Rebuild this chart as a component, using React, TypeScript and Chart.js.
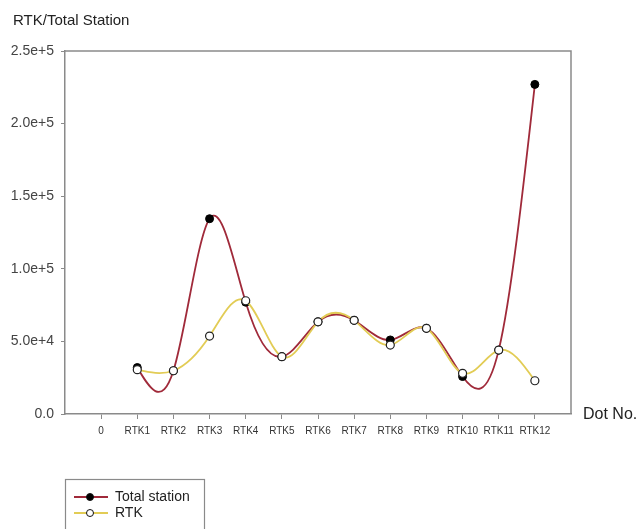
import React, { useEffect, useRef } from 'react';
import { Chart, registerables } from 'chart.js';

Chart.register(...registerables);

const chartTitle = 'RTK/Total Station';
const xAxisTitle = 'Dot No.';
const xTickLabels = ['0', 'RTK1', 'RTK2', 'RTK3', 'RTK4', 'RTK5', 'RTK6', 'RTK7', 'RTK8', 'RTK9', 'RTK10', 'RTK11', 'RTK12'];
const dotNo = [1, 2, 3, 4, 5, 6, 7, 8, 9, 10, 11, 12];
const totalStation = [32000, 29800, 134500, 77000, 39500, 63500, 64500, 51000, 59000, 25800, 44000, 227000];
const rtk = [30500, 29800, 53700, 78000, 39500, 63500, 64500, 47500, 59000, 28000, 44000, 22900];
const yTickValues = [0, 50000, 100000, 150000, 200000, 250000];
const yTickLabels = ['0.0', '5.0e+4', '1.0e+5', '1.5e+5', '2.0e+5', '2.5e+5'];
const seriesNames = ['Total station', 'RTK'];

const TS_COLOR = '#a02a3a';
const RTK_COLOR = '#e2cc55';
const AXIS_COLOR = '#8a8a8a';
const FONT = '"Liberation Sans", Arial, sans-serif';

// Renders each dataset's line as a natural cubic spline through its points
const splinePlugin = {
  id: 'naturalSpline',
  beforeDatasetDraw(chart: any, args: any) {
    const meta = args.meta;
    const line = meta.dataset;
    const pts = meta.data;
    const n = pts.length;
    if (!line || n < 3) return;
    const xs = pts.map((p: any) => p.x);
    const ys = pts.map((p: any) => p.y);
    const h: number[] = [];
    for (let i = 0; i < n - 1; i++) h[i] = xs[i + 1] - xs[i];
    const a: number[] = [], b: number[] = [], c: number[] = [], d: number[] = [];
    for (let i = 1; i < n - 1; i++) {
      a.push(h[i - 1]);
      b.push(2 * (h[i - 1] + h[i]));
      c.push(h[i]);
      d.push(6 * ((ys[i + 1] - ys[i]) / h[i] - (ys[i] - ys[i - 1]) / h[i - 1]));
    }
    const m = a.length;
    for (let i = 1; i < m; i++) {
      const w = a[i] / b[i - 1];
      b[i] -= w * c[i - 1];
      d[i] -= w * d[i - 1];
    }
    const sol: number[] = new Array(m);
    sol[m - 1] = d[m - 1] / b[m - 1];
    for (let i = m - 2; i >= 0; i--) sol[i] = (d[i] - c[i] * sol[i + 1]) / b[i];
    const M: number[] = new Array(n).fill(0);
    for (let i = 0; i < m; i++) M[i + 1] = sol[i];
    const der: number[] = [];
    for (let i = 0; i < n - 1; i++) der[i] = (ys[i + 1] - ys[i]) / h[i] - (h[i] * (2 * M[i] + M[i + 1])) / 6;
    der[n - 1] = (ys[n - 1] - ys[n - 2]) / h[n - 2] + (h[n - 2] * (M[n - 2] + 2 * M[n - 1])) / 6;
    pts.forEach((p: any, i: number) => {
      const hp = i > 0 ? h[i - 1] : 0;
      const hn = i < n - 1 ? h[i] : 0;
      p.cp1x = p.x - hp / 3;
      p.cp1y = p.y - (hp / 3) * der[i];
      p.cp2x = p.x + hn / 3;
      p.cp2y = p.y + (hn / 3) * der[i];
    });
    line._pointsUpdated = true;
    line._path = undefined;
  },
};

const decorPlugin = {
  id: 'decor',
  afterDraw(chart: any) {
    const ctx = chart.ctx;
    const area = chart.chartArea;
    ctx.save();
    // frame top & right
    ctx.strokeStyle = AXIS_COLOR;
    ctx.lineWidth = 1.5;
    ctx.beginPath();
    ctx.moveTo(area.left, area.top);
    ctx.lineTo(area.right, area.top);
    ctx.lineTo(area.right, area.bottom);
    ctx.stroke();

    // title
    ctx.fillStyle = '#222';
    ctx.textAlign = 'left';
    ctx.textBaseline = 'middle';
    ctx.font = `15px ${FONT}`;
    ctx.fillText(chartTitle, 13, 21);

    // x axis title
    ctx.font = `16px ${FONT}`;
    ctx.fillText(xAxisTitle, area.right + 12, area.bottom + 1);

    // legend
    ctx.strokeStyle = AXIS_COLOR;
    ctx.lineWidth = 1.2;
    ctx.strokeRect(65.5, 479.5, 139, 70);
    const items = [
      { name: seriesNames[0], color: TS_COLOR, fill: '#000', y: 497 },
      { name: seriesNames[1], color: RTK_COLOR, fill: '#fff', y: 513 },
    ];
    items.forEach((it) => {
      ctx.strokeStyle = it.color;
      ctx.lineWidth = 1.8;
      ctx.beginPath();
      ctx.moveTo(74, it.y);
      ctx.lineTo(108, it.y);
      ctx.stroke();
      ctx.beginPath();
      ctx.arc(90, it.y, 3.5, 0, Math.PI * 2);
      ctx.fillStyle = it.fill;
      ctx.fill();
      ctx.strokeStyle = '#111';
      ctx.lineWidth = 1;
      ctx.stroke();
      ctx.fillStyle = '#222';
      ctx.font = `14px ${FONT}`;
      ctx.fillText(it.name, 115, it.y);
    });
    ctx.restore();
  },
};

export default function App() {
  const canvasRef = useRef<HTMLCanvasElement | null>(null);

  useEffect(() => {
    const canvas = canvasRef.current;
    if (!canvas) return;
    const chart = new Chart(canvas, {
      type: 'line',
      data: {
        datasets: [
          {
            label: seriesNames[0],
            data: dotNo.map((x, i) => ({ x, y: totalStation[i] })),
            borderColor: TS_COLOR,
            borderWidth: 1.8,
            backgroundColor: '#000',
            pointBackgroundColor: '#000',
            pointBorderColor: '#000',
            pointRadius: 4,
            pointBorderWidth: 1,
            tension: 0.4,
            order: 1,
          },
          {
            label: seriesNames[1],
            data: dotNo.map((x, i) => ({ x, y: rtk[i] })),
            borderColor: RTK_COLOR,
            borderWidth: 1.8,
            backgroundColor: '#fff',
            pointBackgroundColor: '#fff',
            pointBorderColor: '#222',
            pointRadius: 4,
            pointBorderWidth: 1.2,
            tension: 0.4,
            order: 0,
          },
        ],
      },
      options: {
        responsive: false,
        animation: false,
        layout: { padding: { left: 0, top: 51, right: 68, bottom: 0 } },
        plugins: {
          legend: { display: false },
          tooltip: { enabled: false },
        },
        scales: {
          x: {
            type: 'linear',
            min: -1,
            max: 13,
            afterBuildTicks: (scale: any) => {
              scale.ticks = xTickLabels.map((_, i) => ({ value: i }));
            },
            afterFit: (scale: any) => {
              scale.height = 115;
            },
            grid: { drawOnChartArea: false, drawTicks: true, tickLength: 5, color: AXIS_COLOR },
            border: { color: AXIS_COLOR, width: 1.5 },
            ticks: {
              autoSkip: false,
              maxRotation: 0,
              padding: 6,
              color: '#333',
              font: { family: '"Liberation Sans Narrow", "Liberation Sans", Arial, sans-serif', size: 10 },
              callback: (v: any) => xTickLabels[Math.round(Number(v))] ?? '',
            },
          },
          y: {
            type: 'linear',
            min: 0,
            max: 250000,
            afterBuildTicks: (scale: any) => {
              scale.ticks = yTickValues.map((v) => ({ value: v }));
            },
            afterFit: (scale: any) => {
              scale.width = 65;
            },
            grid: { drawOnChartArea: false, drawTicks: true, tickLength: 4, color: AXIS_COLOR },
            border: { color: AXIS_COLOR, width: 1.5 },
            ticks: {
              padding: 7,
              color: '#444',
              font: { family: FONT, size: 14 },
              callback: (v: any) => {
                const idx = yTickValues.indexOf(Number(v));
                return idx >= 0 ? yTickLabels[idx] : '';
              },
            },
          },
        },
      },
      plugins: [splinePlugin, decorPlugin],
    });
    return () => chart.destroy();
  }, []);

  return (
    <div style={{ position: 'absolute', left: 0, top: 0, width: 639, height: 529, background: '#fff' }}>
      <canvas ref={canvasRef} width={639} height={529} />
    </div>
  );
}
